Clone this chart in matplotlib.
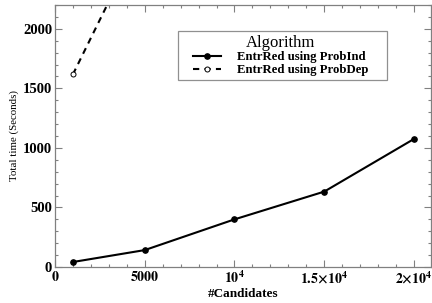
import matplotlib
matplotlib.use("Agg")
import matplotlib.pyplot as plt
from matplotlib.ticker import MultipleLocator, FixedLocator
from matplotlib.patches import Rectangle

candidates_ind = [1000, 5000, 10000, 15000, 20000]
time_ind = [42, 142, 400, 633, 1075]
candidates_dep = [1000, 5000]
time_dep = [1618, 2840]
xtick_vals = [0, 5000, 10000, 15000, 20000]
xtick_labels = [r'$\mathbf{0}$', r'$\mathbf{5000}$', r'$\mathbf{10^{4}}$',
                r'$\mathbf{1.5{\times}10^{4}}$', r'$\mathbf{2{\times}10^{4}}$']
ytick_vals = [0, 500, 1000, 1500, 2000]

plt.rcParams['font.family'] = ['Liberation Serif', 'DejaVu Serif']
plt.rcParams['mathtext.fontset'] = 'stix'

fig = plt.figure(figsize=(4.32, 3.03), dpi=100)
ax = fig.add_axes([55/432, 36/303, 376/432, 262/303])

ax.plot(candidates_ind, time_ind, color='black', lw=1.5, marker='o', ms=3.8,
        mfc='black', mec='black', label='EntrRed using ProbInd')
ax.plot(candidates_dep, time_dep, color='black', lw=1.5, ls=(0, (3, 2.5)), marker='o', ms=3.6,
        mfc='white', mec='black', mew=0.7, label='EntrRed using ProbDep')

ax.set_xlim(0, 20950)
ax.set_ylim(0, 2200)
ax.xaxis.set_major_locator(FixedLocator(xtick_vals))
ax.set_xticklabels(xtick_labels)
ax.xaxis.set_minor_locator(MultipleLocator(1000))
ax.yaxis.set_major_locator(FixedLocator(ytick_vals))
ax.yaxis.set_minor_locator(MultipleLocator(100))
for lab in ax.get_yticklabels():
    lab.set_fontweight('bold')
ax.tick_params(which='both', direction='in', top=True, right=True, colors='#808080',
               labelcolor='black', width=0.8)
ax.tick_params(axis='y', labelsize=10.5)
ax.tick_params(axis='x', labelsize=10)
ax.tick_params(which='major', length=5, pad=2)
ax.tick_params(which='minor', length=2.5)
for s in ax.spines.values():
    s.set_color('#808080')
    s.set_linewidth(0.9)

ax.set_xlabel('#Candidates', fontsize=9.5, fontweight='bold', labelpad=1)
ax.set_ylabel('Total time (Seconds)', fontsize=7.8)
ax.yaxis.set_label_coords(-0.095, 0.5)

leg = ax.legend(loc='upper left', bbox_to_anchor=(0.356, 0.901), borderaxespad=0,
                fontsize=9.2, title='Algorithm', title_fontsize=12, frameon=False,
                borderpad=0.3, handlelength=2.25, labelspacing=0.05,
                handletextpad=1.25)
for t in leg.get_texts():
    t.set_fontweight('bold')

fig.canvas.draw()
bb = leg.get_window_extent()
frame = Rectangle((bb.x0 - 11, bb.y0), bb.width + 25, bb.height, transform=None,
                  fill=False, edgecolor='#909090', lw=0.9, zorder=5)
fig.add_artist(frame)

fig.savefig('out.png', dpi=100)
